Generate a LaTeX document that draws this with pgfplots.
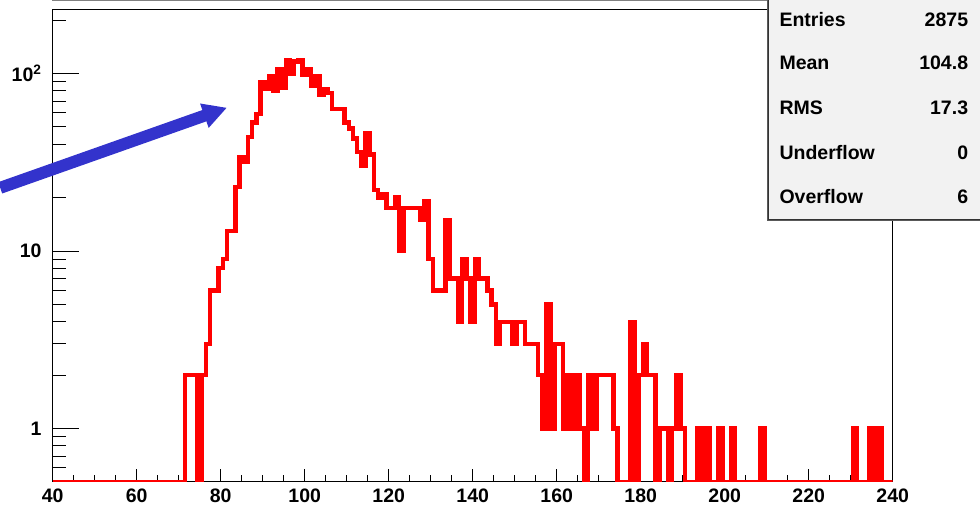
\documentclass[border=0pt]{standalone}
\usepackage{fontspec}
\setmainfont{Liberation Sans}
\usepackage{pgfplots}
\usepackage{pgfplotstable}
\pgfplotsset{compat=1.18}
\usetikzlibrary{arrows.meta}
\definecolor{rootred}{RGB}{255,0,0}
\definecolor{rootblue}{RGB}{51,51,204}
\definecolor{statsbg}{RGB}{242,242,242}
\newcommand{\rootfont}{\fontsize{19.5}{23}\selectfont\bfseries}

\pgfplotstableread[row sep=\\]{
bin count\\
40 0.5\\ 41 0.5\\ 42 0.5\\ 43 0.5\\ 44 0.5\\ 45 0.5\\ 46 0.5\\ 47 0.5\\ 48 0.5\\ 49 0.5\\
50 0.5\\ 51 0.5\\ 52 0.5\\ 53 0.5\\ 54 0.5\\ 55 0.5\\ 56 0.5\\ 57 0.5\\ 58 0.5\\ 59 0.5\\
60 0.5\\ 61 0.5\\ 62 0.5\\ 63 0.5\\ 64 0.5\\ 65 0.5\\ 66 0.5\\ 67 0.5\\ 68 0.5\\ 69 0.5\\
70 0.5\\ 71 0.5\\ 72 2\\ 73 2\\ 74 2\\ 75 0.5\\ 76 2\\ 77 3\\ 78 6\\ 79 6\\
80 8\\ 81 9\\ 82 13\\ 83 13\\ 84 23\\ 85 34\\ 86 32\\ 87 44\\ 88 53\\ 89 59\\
90 89\\ 91 82\\ 92 97\\ 93 80\\ 94 106\\ 95 83\\ 96 119\\ 97 99\\ 98 117\\ 99 119\\
100 98\\ 101 106\\ 102 85\\ 103 97\\ 104 76\\ 105 82\\ 106 78\\ 107 63\\ 108 63\\ 109 63\\
110 53\\ 111 49\\ 112 43\\ 113 36\\ 114 30\\ 115 46\\ 116 35\\ 117 22\\ 118 20\\ 119 21\\
120 17.5\\ 121 17.5\\ 122 20\\ 123 10\\ 124 17.5\\ 125 17.5\\ 126 17.5\\ 127 17.5\\ 128 15\\ 129 19\\
130 9\\ 131 6\\ 132 6\\ 133 6\\ 134 15\\ 135 7\\ 136 7\\ 137 4\\ 138 9\\ 139 7\\
140 4\\ 141 9\\ 142 7\\ 143 7\\ 144 6\\ 145 5\\ 146 3\\ 147 4\\ 148 4\\ 149 4\\
150 3\\ 151 4\\ 152 4\\ 153 3\\ 154 3\\ 155 3\\ 156 2\\ 157 1\\ 158 5\\ 159 1\\
160 3\\ 161 3\\ 162 1\\ 163 2\\ 164 1\\ 165 2\\ 166 1\\ 167 0.5\\ 168 2\\ 169 1\\
170 2\\ 171 2\\ 172 2\\ 173 2\\ 174 1\\ 175 0.5\\ 176 0.5\\ 177 0.5\\ 178 4\\ 179 0.5\\
180 2\\ 181 3\\ 182 2\\ 183 2\\ 184 0.5\\ 185 1\\ 186 1\\ 187 0.5\\ 188 1\\ 189 2\\
190 1\\ 191 0.5\\ 192 0.5\\ 193 0.5\\ 194 1\\ 195 0.5\\ 196 1\\ 197 0.5\\ 198 0.5\\ 199 1\\
200 0.5\\ 201 0.5\\ 202 1\\ 203 0.5\\ 204 0.5\\ 205 0.5\\ 206 0.5\\ 207 0.5\\ 208 0.5\\ 209 1\\
210 0.5\\ 211 0.5\\ 212 0.5\\ 213 0.5\\ 214 0.5\\ 215 0.5\\ 216 0.5\\ 217 0.5\\ 218 0.5\\ 219 0.5\\
220 0.5\\ 221 0.5\\ 222 0.5\\ 223 0.5\\ 224 0.5\\ 225 0.5\\ 226 0.5\\ 227 0.5\\ 228 0.5\\ 229 0.5\\
230 0.5\\ 231 1\\ 232 0.5\\ 233 0.5\\ 234 0.5\\ 235 1\\ 236 0.5\\ 237 1\\ 238 0.5\\ 239 0.5\\
240 0.5\\
}\hist

\begin{document}
\begin{tikzpicture}[x=1pt,y=1pt]
\path[use as bounding box] (0,0) rectangle (980,513);
\begin{axis}[
  at={(52.7pt,31pt)}, anchor=south west,
  scale only axis, width=840pt, height=472pt,
  xmin=40, xmax=240, ymode=log, ymin=0.5, ymax=228,
  axis line style={line width=1pt, black},
  xtick={40,60,...,240},
  xticklabels={40,60,80,100,120,140,160,180,200,220,240},
  minor x tick num=3,
  ytick={1,10,100},
  yticklabels={1,10,10\textsuperscript{2}},
  minor ytick={0.6,0.7,0.8,0.9,2,3,4,5,6,7,8,9,20,30,40,50,60,70,80,90,200},
  tick align=inside, tick pos=left,
  tick style={black, line width=1pt},
  xtick style={/pgfplots/major tick length=13pt,/pgfplots/minor tick length=7pt},
  ytick style={/pgfplots/major tick length=26pt,/pgfplots/minor tick length=13pt},
  ticklabel style={font=\rootfont},
  xticklabel style={anchor=north, inner sep=0pt, yshift=-6.5pt},
  yticklabel style={anchor=east, inner sep=0pt, xshift=-11pt},
]
\addplot[const plot mark mid, rootred, line width=4.3pt] table[x=bin,y=count]{\hist};
\coordinate (atail) at (axis cs:27.5,22.7);
\coordinate (ahead) at (axis cs:81.5,64.2);
\end{axis}
\draw[rootblue, line width=12pt, -{Triangle[length=24pt,width=24pt]}] (atail) -- (ahead);
\draw[gray, line width=1pt] (52,512.5) -- (792,512.5);
% stats box
\fill[black!65] (767,292) rectangle (982,515);
\filldraw[fill=statsbg, draw=black!80, line width=0.8pt] (768.8,293.8) rectangle (982,515);
\foreach \lab/\val/\yb in {Entries/2875/486.3, Mean/104.8/443, RMS/17.3/398, Underflow/0/353.7, Overflow/6/309.7}{
  \node[anchor=base west, inner sep=0pt, font=\rootfont] at (779.3,\yb) {\lab};
  \node[anchor=base east, inner sep=0pt, font=\rootfont] at (968.3,\yb) {\val};
}
\end{tikzpicture}
\end{document}
